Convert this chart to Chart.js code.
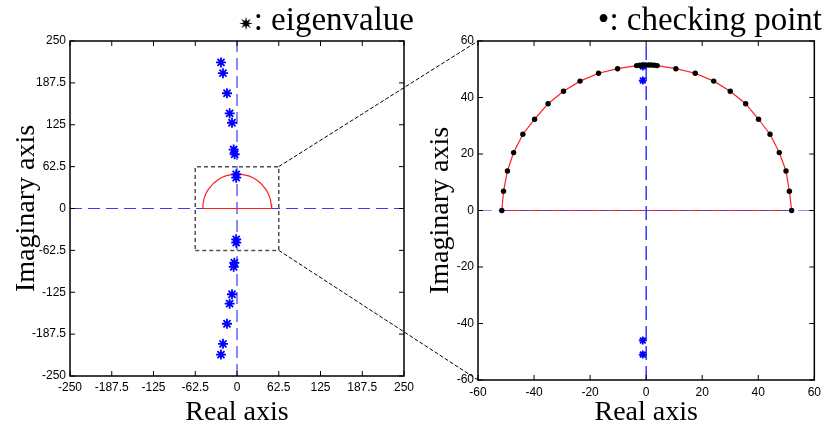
<!DOCTYPE html>
<html>
<head>
<meta charset="utf-8">
<script src="https://cdn.jsdelivr.net/npm/chart.js@4.4.0/dist/chart.umd.min.js"></script>
<style>
body{margin:0;background:#fff;}
#wrap{position:relative;width:826px;height:428px;}
canvas{position:absolute;top:0;}
</style>
</head>
<body>
<div id="wrap">
<canvas id="left" width="420" height="428" style="left:0"></canvas>
<canvas id="right" width="406" height="428" style="left:420px"></canvas>
<canvas id="links" width="826" height="428" style="left:0;pointer-events:none"></canvas>
</div>
<script>
// eigenvalues
var eigReal = [-24, -21, -15, -11, -7.5, -5, -3.5, -1.2, -1.2, -24, -21, -15, -11, -7.5, -4, -5, -1.2, -1.2];
var eigImag = [218, 202, 172, 142, 128, 88, 81, 51, 46, -218, -202, -172, -142, -128, -81, -87, -46, -51];

// checking points on the contour
var arcReal = [-51.5, -50.9, -49.5, -47.3, -44, -39.8, -35, -29.5, -23.6, -17, -10.2, -3.4, -2.3, -1.3, -0.3, 0.8, 1.8, 2.9, 3.9, 10.6, 17.5, 24.1, 30, 35.5, 40.1, 44.2, 47.5, 49.9, 51.1, 51.9];
var arcImag = [0, 6.8, 14, 20.5, 27, 32.3, 37.8, 42.2, 45.8, 48.6, 50.2, 51.3, 51.4, 51.5, 51.5, 51.5, 51.5, 51.4, 51.3, 50.2, 48.6, 45.8, 42.2, 37.8, 32.3, 27, 20.5, 14, 6.8, 0];

var leftTicks = [-250, -187.5, -125, -62.5, 0, 62.5, 125, 187.5, 250];
var rightTicks = [-60, -40, -20, 0, 20, 40, 60];
var zoomBox = [-62.5, 62.5];

function pts(xs, ys) {
    return xs.map(function (x, i) { return {x: x, y: ys[i]}; });
}
var eigPts = pts(eigReal, eigImag);
var arcPts = pts(arcReal, arcImag);
var contour = arcPts.concat([arcPts[0]]);

// MATLAB-like box with inward ticks + heading text
var frame = {
    id: 'frame',
    afterDatasetsDraw: function (chart, args, opts) {
        var ctx = chart.ctx, a = chart.chartArea, sx = chart.scales.x, sy = chart.scales.y;
        ctx.save();
        ctx.strokeStyle = '#000';
        ctx.lineWidth = 1;
        ctx.beginPath();
        sx.ticks.forEach(function (t) {
            var p = sx.getPixelForValue(t.value);
            ctx.moveTo(p, a.bottom); ctx.lineTo(p, a.bottom - 5);
            ctx.moveTo(p, a.top); ctx.lineTo(p, a.top + 5);
        });
        sy.ticks.forEach(function (t) {
            var p = sy.getPixelForValue(t.value);
            ctx.moveTo(a.left, p); ctx.lineTo(a.left + 5, p);
            ctx.moveTo(a.right, p); ctx.lineTo(a.right - 5, p);
        });
        ctx.stroke();
        ctx.lineWidth = 1.5;
        ctx.strokeRect(a.left, a.top, a.right - a.left, a.bottom - a.top);

        // heading, right aligned
        ctx.fillStyle = '#000';
        ctx.textBaseline = 'alphabetic';
        ctx.textAlign = 'right';
        ctx.font = '33px "Liberation Serif", "Times New Roman", serif';
        ctx.fillText(opts.text, opts.x, 29.5);
        var w = ctx.measureText(opts.text).width;
        ctx.font = opts.markSize + 'px ' + opts.markFont;
        ctx.fillText(opts.mark, opts.x - w, 29.5);
        ctx.restore();
    }
};

function axis(ticks, label, size, pad, tpad) {
    return {
        type: 'linear',
        min: ticks[0],
        max: ticks[ticks.length - 1],
        afterBuildTicks: function (s) {
            s.ticks = ticks.map(function (v) { return {value: v}; });
        },
        afterFit: function (s) {
            if (s.isHorizontal()) s.height = size; else s.width = size;
        },
        grid: {display: false, drawTicks: false},
        border: {display: false},
        ticks: {
            color: '#000',
            padding: pad,
            autoSkip: false,
            maxRotation: 0,
            font: {family: '"Liberation Sans", Arial, sans-serif', size: 12},
            callback: function (v) { return String(v); }
        },
        title: {
            display: true,
            text: label,
            color: '#000',
            font: {family: '"Liberation Serif", "Times New Roman", serif', size: 28, lineHeight: 1},
            padding: tpad
        }
    };
}

function line(data, color, width, dash) {
    return {data: data, showLine: true, borderColor: color, borderWidth: width, borderDash: dash || [], pointRadius: 0, fill: false};
}

var xLeft = leftTicks[0], xRight = leftTicks[leftTicks.length - 1];
var leftChart = new Chart(document.getElementById('left'), {
    type: 'scatter',
    data: {
        datasets: [
            {data: eigPts, pointStyle: 'star', pointRadius: 5, borderColor: '#0000ff', backgroundColor: '#0000ff', borderWidth: 1.8},
            line(contour, '#ff2020', 1.2),
            line([{x: xLeft, y: 0}, {x: xRight, y: 0}], '#3a3aff', 1.2, [12, 6]),
            line([{x: 0, y: xLeft}, {x: 0, y: xRight}], '#3a3aff', 1.2, [12, 6]),
            line([{x: zoomBox[0], y: zoomBox[0]}, {x: zoomBox[1], y: zoomBox[0]}, {x: zoomBox[1], y: zoomBox[1]},
                  {x: zoomBox[0], y: zoomBox[1]}, {x: zoomBox[0], y: zoomBox[0]}], '#505050', 1.5, [4, 3])
        ]
    },
    options: {
        responsive: false,
        animation: false,
        devicePixelRatio: 1,
        layout: {padding: {left: 0, top: 41, right: 16, bottom: 0}},
        plugins: {
            legend: {display: false},
            tooltip: {enabled: false},
            frame: {text: ': eigenvalue', mark: '\u2737', markSize: 18, markFont: '"DejaVu Sans", sans-serif', x: 414}
        },
        scales: {
            x: axis(leftTicks, 'Real axis', 52, 4, {top: 0, bottom: 1}),
            y: axis(leftTicks, 'Imaginary axis', 70, 4, {top: 13, bottom: 0})
        }
    },
    plugins: [frame]
});

var rLo = rightTicks[0], rHi = rightTicks[rightTicks.length - 1];
var rightChart = new Chart(document.getElementById('right'), {
    type: 'scatter',
    data: {
        datasets: [
            {data: arcPts, pointRadius: 2.7, pointStyle: 'circle', borderWidth: 0, backgroundColor: '#000', borderColor: '#000'},
            {data: eigPts, pointStyle: 'star', pointRadius: 4, borderColor: '#0000ff', backgroundColor: '#0000ff', borderWidth: 1.8},
            line([{x: rLo, y: 0}, {x: rHi, y: 0}], 'rgba(60,60,255,0.55)', 1.2, [14, 6]),
            line(contour, '#ff2020', 1.2),
            line([{x: 0, y: rLo}, {x: 0, y: rHi}], '#0000ff', 1.2, [14, 6])
        ]
    },
    options: {
        responsive: false,
        animation: false,
        devicePixelRatio: 1,
        layout: {padding: {left: 0, top: 41, right: 8, bottom: 0}},
        plugins: {
            legend: {display: false},
            tooltip: {enabled: false},
            frame: {text: '\u2022: checking point', mark: '', markSize: 18, markFont: 'serif', x: 402}
        },
        scales: {
            x: axis(rightTicks, 'Real axis', 48, 5, {top: 0, bottom: 1}),
            y: axis(rightTicks, 'Imaginary axis', 58, 4, {top: 7, bottom: 0})
        }
    },
    plugins: [frame]
});

// zoom connectors between the two plots
(function () {
    var ctx = document.getElementById('links').getContext('2d');
    var lx = leftChart.scales.x, ly = leftChart.scales.y, ra = rightChart.chartArea;
    var bx = lx.getPixelForValue(zoomBox[1]);
    var offset = 420;
    ctx.strokeStyle = '#000';
    ctx.lineWidth = 1;
    ctx.setLineDash([4, 2]);
    ctx.beginPath();
    ctx.moveTo(bx, ly.getPixelForValue(zoomBox[1]));
    ctx.lineTo(offset + ra.left, ra.top);
    ctx.moveTo(bx, ly.getPixelForValue(zoomBox[0]));
    ctx.lineTo(offset + ra.left, ra.bottom);
    ctx.stroke();
})();
</script>
</body>
</html>
